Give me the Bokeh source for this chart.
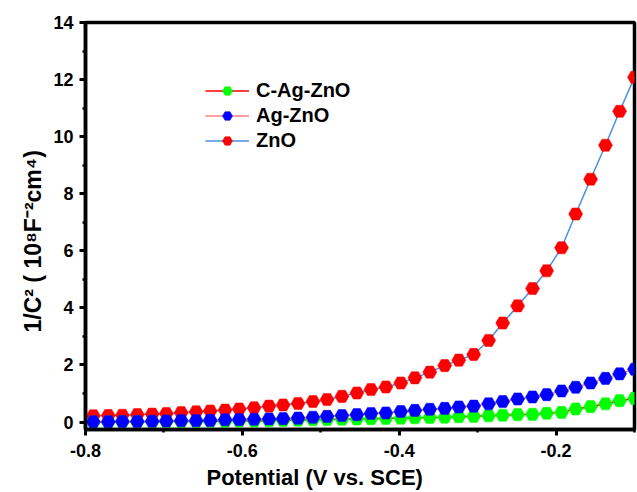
import math
from bokeh.plotting import figure
from bokeh.models import (Range1d, SingleIntervalTicker, Legend, LegendItem,
                          Title, CustomJSTickFormatter)
from bokeh.embed import file_html
from bokeh.resources import INLINE

# ---- data ----
potential = [-0.790, -0.771, -0.753, -0.734, -0.715, -0.697, -0.678, -0.659,
             -0.641, -0.622, -0.604, -0.585, -0.566, -0.548, -0.529, -0.510,
             -0.492, -0.473, -0.454, -0.436, -0.417, -0.398, -0.380, -0.361,
             -0.342, -0.324, -0.305, -0.286, -0.268, -0.249, -0.230, -0.212,
             -0.193, -0.175, -0.156, -0.137, -0.119, -0.100]

c_ag_zno = [0.00, 0.00, 0.01, 0.01, 0.01, 0.02, 0.02, 0.02, 0.03, 0.03,
            0.04, 0.04, 0.05, 0.06, 0.07, 0.08, 0.09, 0.10, 0.11, 0.12,
            0.13, 0.14, 0.15, 0.16, 0.17, 0.19, 0.20, 0.22, 0.24, 0.26,
            0.27, 0.31, 0.34, 0.46, 0.54, 0.64, 0.75, 0.83]

ag_zno = [0.01, 0.01, 0.02, 0.02, 0.03, 0.04, 0.05, 0.05, 0.06, 0.08,
          0.09, 0.10, 0.11, 0.12, 0.14, 0.17, 0.20, 0.23, 0.26, 0.30,
          0.32, 0.37, 0.41, 0.45, 0.48, 0.53, 0.56, 0.64, 0.72, 0.81,
          0.88, 0.96, 1.09, 1.22, 1.37, 1.53, 1.69, 1.85]

zno = [0.22, 0.23, 0.24, 0.26, 0.28, 0.30, 0.33, 0.36, 0.39, 0.42,
       0.46, 0.50, 0.56, 0.60, 0.65, 0.72, 0.79, 0.90, 1.02, 1.14,
       1.23, 1.37, 1.55, 1.75, 1.98, 2.17, 2.37, 2.86, 3.47, 4.07,
       4.68, 5.30, 6.11, 7.29, 8.51, 9.70, 10.89, 12.08]

series_names = ["C-Ag-ZnO", "Ag-ZnO", "ZnO"]
x_title = "Potential (V vs. SCE)"
y_title = "1/C\u00b2 ( 10\u2078F\u207b\u00b2cm\u2074)"

FONT = "Liberation Sans"

p = figure(width=637, height=492, output_backend="svg", toolbar_location=None,
           x_range=Range1d(-0.8, -0.1), y_range=Range1d(-0.26, 14),
           min_border_left=85, min_border_right=3, min_border_top=22,
           min_border_bottom=62)

p.grid.visible = False
p.outline_line_color = "black"
p.outline_line_width = 3.5
p.outline_line_alpha = 1.0
p.background_fill_color = "white"
p.border_fill_color = "white"

# ZnO (drawn first, bottom)
l_zno = p.line(potential, zno, line_color="#4a8fe0", line_width=1.5)
s_zno = p.scatter(potential, zno, marker="hex", size=14, fill_color="#ff0000",
                  line_color="#ff0000", line_width=0.5)
# C-Ag-ZnO
l_c = p.line(potential, c_ag_zno, line_color="#ff0000", line_width=1.5)
s_c = p.scatter(potential, c_ag_zno, marker="hex", size=14, fill_color="#00ff00",
                line_color="#00ff00", line_width=0.5)
# Ag-ZnO
l_ag = p.line(potential, ag_zno, line_color="#ff8080", line_width=1.5)
s_ag = p.scatter(potential, ag_zno, marker="hex", size=14, fill_color="#0000ff",
                 line_color="#0000ff", line_width=0.5)

legend = Legend(items=[
    LegendItem(label=series_names[0], renderers=[l_c, s_c]),
    LegendItem(label=series_names[1], renderers=[l_ag, s_ag]),
    LegendItem(label=series_names[2], renderers=[l_zno, s_zno]),
], location=(120, 276), padding=0, margin=0, border_line_alpha=0,
   background_fill_alpha=0, glyph_width=44, glyph_height=25, label_height=25,
   spacing=0, label_standoff=7, label_text_font=FONT,
   label_text_font_style="bold", label_text_font_size="20px",
   label_text_color="black")
p.add_layout(legend)

# axes
for ax in (p.xaxis[0], p.yaxis[0]):
    ax.axis_line_width = 3.5
    ax.axis_line_color = "black"
    ax.major_tick_line_width = 3
    ax.minor_tick_line_width = 2.5
    ax.major_tick_out = 6
    ax.major_tick_in = 0
    ax.minor_tick_out = 3
    ax.minor_tick_in = 0
    ax.major_label_text_font = FONT
    ax.major_label_text_font_style = "bold"
    ax.major_label_text_font_size = "18px"
    ax.major_label_text_color = "black"

p.xaxis.ticker = SingleIntervalTicker(interval=0.2, num_minor_ticks=2)
p.yaxis.ticker = SingleIntervalTicker(interval=2, num_minor_ticks=2)
p.xaxis.formatter = CustomJSTickFormatter(code="return tick.toFixed(1)")
p.yaxis.formatter = CustomJSTickFormatter(code="return tick.toFixed(0)")
p.xaxis.major_label_standoff = 8
p.yaxis.major_label_standoff = 6

xt = Title(text=x_title, align="left", offset=121, text_font=FONT,
           text_font_style="bold", text_font_size="22px", text_color="black",
           standoff=6)
yt = Title(text=y_title, align="left", offset=97, text_font=FONT,
           text_font_style="bold", text_font_size="23px", text_color="black",
           standoff=10)
p.add_layout(xt, "below")
p.add_layout(yt, "left")

open("out.html", "w").write(file_html(p, INLINE))
